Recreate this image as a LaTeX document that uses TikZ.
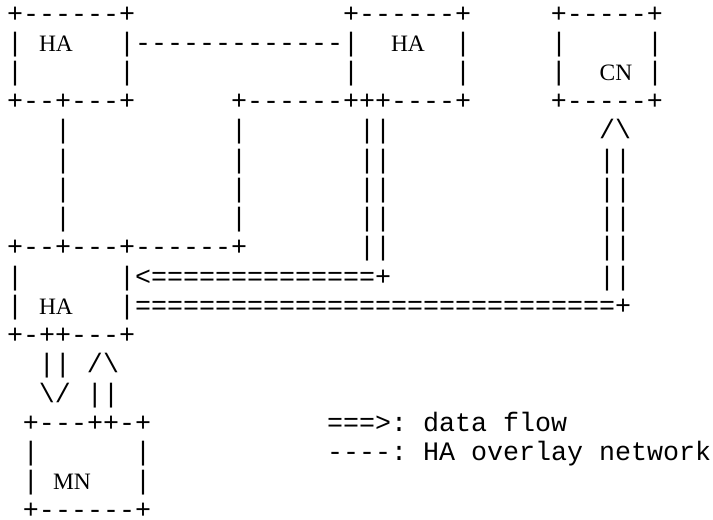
\documentclass[tikz,border=0pt]{standalone}
\usepackage{fontspec}
\setmonofont{Liberation Mono}
\newfontfamily\labfont{Liberation Serif}
\newdimen\cw \cw=16pt
\newcommand\Sp[1]{\hskip#1\cw\relax}
\newcommand\bs{\textbackslash}
\frenchspacing
\begin{document}
\begin{tikzpicture}[x=1pt,y=-1pt,
  asc/.style={inner sep=0pt, outer sep=0pt, anchor=base west,
    font=\ttfamily\fontsize{26.667}{29.24}\selectfont},
  lab/.style={inner sep=0pt, outer sep=0pt, anchor=base,
    font=\labfont\fontsize{23.5}{25}\selectfont}]
\useasboundingbox[fill=white] (0,0) rectangle (713,520);
% ASCII rows (column 0 starts at x=7, 16pt per column, 29.24pt per row)
\node[asc] (r0)  at (7,22)     {+------+\Sp{13}+------+\Sp{5}+-----+};
\node[asc] (r1)  at (7,51.24)  {|\Sp{6}|-------------|\Sp{6}|\Sp{5}|\Sp{5}|};
\node[asc] (r2)  at (7,80.48)  {|\Sp{6}|\Sp{13}|\Sp{6}|\Sp{5}|\Sp{5}|};
\node[asc] (r3)  at (7,109.72) {+--+---+\Sp{6}+------+++----+\Sp{5}+-----+};
\node[asc] (r4)  at (7,138.96) {\Sp{3}|\Sp{10}|\Sp{7}||\Sp{13}/\bs};
\node[asc] (r5)  at (7,168.2)  {\Sp{3}|\Sp{10}|\Sp{7}||\Sp{13}||};
\node[asc] (r6)  at (7,197.44) {\Sp{3}|\Sp{10}|\Sp{7}||\Sp{13}||};
\node[asc] (r7)  at (7,226.68) {\Sp{3}|\Sp{10}|\Sp{7}||\Sp{13}||};
\node[asc] (r8)  at (7,255.92) {+--+---+------+\Sp{7}||\Sp{13}||};
\node[asc] (r9)  at (7,285.16) {|\Sp{6}|<==============+\Sp{13}||};
\node[asc] (r10) at (7,314.4)  {|\Sp{6}|==============================+};
\node[asc] (r11) at (7,343.64) {+-++---+};
\node[asc] (r12) at (7,372.88) {\Sp{2}||\Sp{1}/\bs};
\node[asc] (r13) at (7,402.12) {\Sp{2}\bs/\Sp{1}||};
\node[asc] (r14) at (7,431.36) {\Sp{1}+---++-+\Sp{11}===>: data flow};
\node[asc] (r15) at (7,460.6)  {\Sp{1}|\Sp{6}|\Sp{11}----: HA overlay network};
\node[asc] (r16) at (7,489.84) {\Sp{1}|\Sp{6}|};
\node[asc] (r17) at (7,518.5)  {\Sp{1}+------+};
% box labels
\node[lab] (ha1) at (56,51.24)  {HA};
\node[lab] (ha2) at (408,51.24) {HA};
\node[lab] (cn)  at (616,80.48) {CN};
\node[lab] (ha3) at (56,314.4)  {HA};
\node[lab] (mn)  at (72,489.84) {MN};
\end{tikzpicture}
\end{document}
